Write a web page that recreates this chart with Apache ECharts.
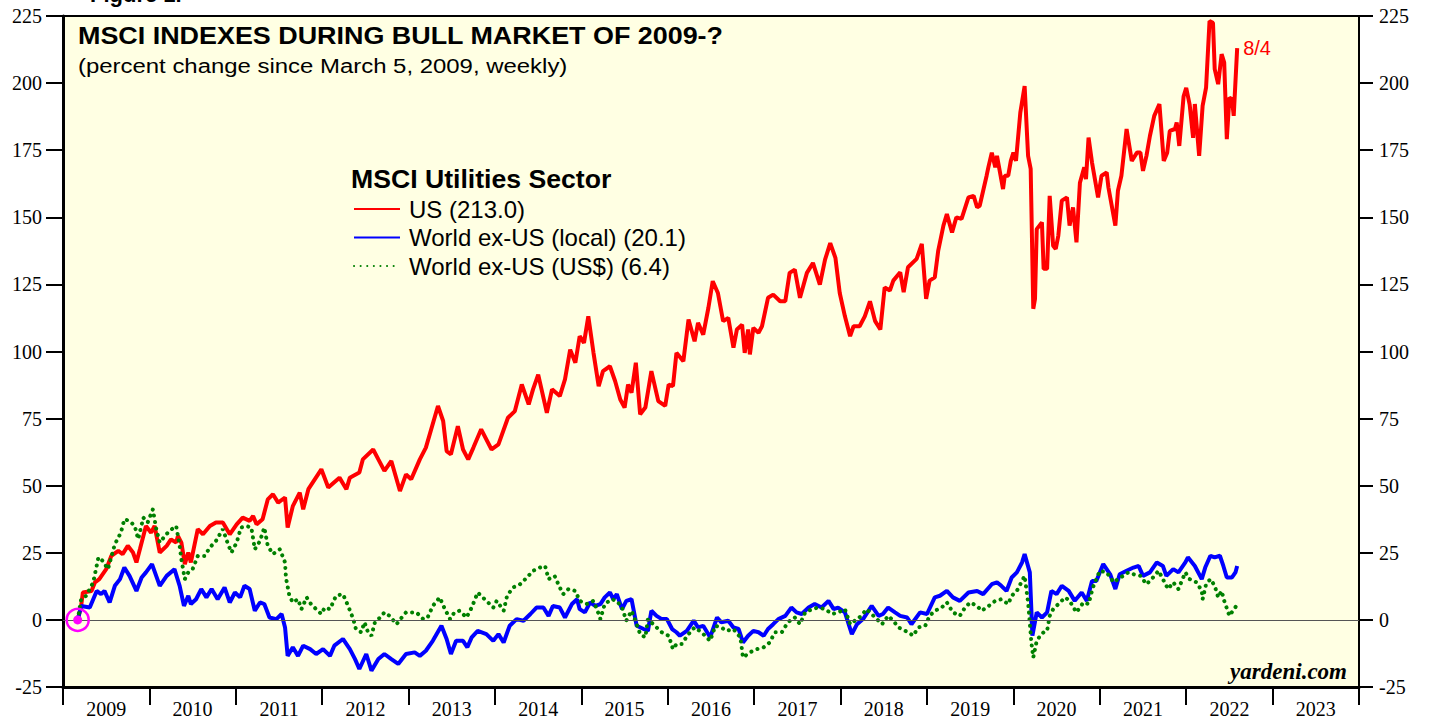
<!DOCTYPE html>
<html>
<head>
<meta charset="utf-8">
<style>html,body{margin:0;padding:0;background:#fff}#main{width:1429px;height:719px}</style>
<script src="https://cdn.jsdelivr.net/npm/echarts@6.0.0/dist/echarts.min.js"></script>
</head>
<body>
<div id="main"></div>
<script>
// year labels on the bottom axis
var years = ['2009', '2010', '2011', '2012', '2013', '2014', '2015', '2016', '2017', '2018', '2019', '2020', '2021', '2022', '2023'];

// MSCI US utilities, % change since 3/5/2009 (dates as decimal years)
var usDates = [
  2009.17, 2009.21, 2009.23, 2009.33, 2009.37, 2009.42, 2009.50, 2009.56, 2009.64, 2009.69, 2009.75, 2009.81, 2009.85, 2009.89, 2009.96,
  2010.02, 2010.06, 2010.12, 2010.20, 2010.25, 2010.31, 2010.33, 2010.37, 2010.41, 2010.45, 2010.48, 2010.56, 2010.62, 2010.70, 2010.77, 2010.85, 2010.93,
  2011.01, 2011.08, 2011.16, 2011.20, 2011.24, 2011.31, 2011.37, 2011.43, 2011.49, 2011.57, 2011.60, 2011.66, 2011.74, 2011.78, 2011.84, 2011.99,
  2012.07, 2012.20, 2012.28, 2012.32, 2012.43, 2012.47, 2012.59, 2012.65, 2012.72, 2012.80, 2012.90, 2012.97,
  2013.03, 2013.13, 2013.20, 2013.34, 2013.40, 2013.44, 2013.49, 2013.57, 2013.63, 2013.69, 2013.75, 2013.84, 2013.96,
  2014.04, 2014.15, 2014.23, 2014.31, 2014.39, 2014.44, 2014.50, 2014.60, 2014.66, 2014.75, 2014.81, 2014.87, 2014.93, 2014.98,
  2015.03, 2015.08, 2015.14, 2015.20, 2015.25, 2015.33, 2015.39, 2015.45, 2015.50, 2015.54, 2015.58, 2015.63, 2015.68, 2015.74, 2015.81, 2015.89, 2015.97,
  2016.01, 2016.06, 2016.10, 2016.18, 2016.24, 2016.31, 2016.35, 2016.41, 2016.47, 2016.52, 2016.58, 2016.64, 2016.70, 2016.76, 2016.80, 2016.86, 2016.89, 2016.93, 2016.95, 2016.99,
  2017.05, 2017.09, 2017.16, 2017.22, 2017.30, 2017.36, 2017.41, 2017.47, 2017.53, 2017.61, 2017.68, 2017.76, 2017.82, 2017.88, 2017.94, 2017.99,
  2018.05, 2018.11, 2018.15, 2018.22, 2018.28, 2018.34, 2018.40, 2018.46, 2018.51, 2018.57, 2018.61, 2018.69, 2018.73, 2018.78, 2018.88, 2018.94, 2018.99,
  2019.03, 2019.09, 2019.13, 2019.19, 2019.23, 2019.29, 2019.34, 2019.40, 2019.48, 2019.54, 2019.58, 2019.61, 2019.69, 2019.71, 2019.75, 2019.79, 2019.81, 2019.88, 2019.90, 2019.94, 2019.97,
  2020.00, 2020.03, 2020.08, 2020.13, 2020.17, 2020.20, 2020.23, 2020.25, 2020.27, 2020.33, 2020.35, 2020.39, 2020.42, 2020.46, 2020.49, 2020.52, 2020.56, 2020.62, 2020.65, 2020.69, 2020.73, 2020.77, 2020.82, 2020.84, 2020.87, 2020.91, 2020.98,
  2021.02, 2021.08, 2021.10, 2021.18, 2021.21, 2021.25, 2021.31, 2021.37, 2021.43, 2021.47, 2021.50, 2021.54, 2021.58, 2021.63, 2021.69, 2021.74, 2021.78, 2021.81, 2021.87, 2021.89, 2021.92, 2021.97,
  2022.00, 2022.04, 2022.08, 2022.10, 2022.15, 2022.19, 2022.23, 2022.27, 2022.31, 2022.33, 2022.37, 2022.41, 2022.44, 2022.47, 2022.50, 2022.53, 2022.55, 2022.59
];
var usValues = [
  0, 5.2, 10.2, 10.8, 14, 15.2, 18.9, 23.9, 25.7, 24.5, 27.6, 25.1, 21.4, 26.3, 35,
  32.5, 35, 25.1, 27.6, 30, 28.8, 31.3, 28.8, 20.8, 25.1, 21.4, 33.8, 31.9, 35, 36.3, 36.3, 31.9,
  35.6, 38.1, 36.9, 38.7, 35.6, 37.5, 44.9, 46.8, 43.7, 45.6, 34.4, 42.4, 47.4, 41.2, 48.7, 56.1,
  49.3, 53, 48.7, 53, 54.9, 59.8, 63.5, 59.8, 55.5, 59.2, 48, 54.2,
  52.4, 59.8, 64.2, 79.7, 74.1, 62.9, 61.7, 72.2, 63.5, 59.8, 64.2, 71, 63.5,
  65.4, 75.3, 77.8, 87.7, 80.3, 85.9, 91.4, 77.2, 85.9, 83.4, 89.6, 100.7, 95.8, 105.7,
  103.2, 113.1, 99.5, 87.1, 92.7, 94.5, 89, 82.1, 79.1, 87.7, 84.6, 95.8, 76.6, 79.1, 92.7, 81.5, 79.7,
  87.7, 87.1, 99.5, 96.4, 111.9, 103.8, 110.7, 106.3, 116.3, 126.2, 121.8, 111.3, 112.5, 101.4, 108.2, 110, 99.5, 108.2, 98.9, 108.8,
  107, 109.4, 120, 121.2, 118.7, 118.7, 129.3, 130.5, 120, 129.3, 133, 124.9, 134.2, 140.4, 134.9, 121.8,
  113.1, 105.7, 109.4, 109.4, 113.1, 118.7, 111.3, 108.2, 123.9, 122.7, 126.4, 129.5, 122.1, 131.4, 134.5, 140.1, 119.6,
  126.4, 127.6, 137.6, 146.9, 151.2, 144.4, 150, 149.4, 157.4, 158, 153.7, 154.3, 165.5, 168.6, 174.1, 168.6, 172.9, 160.5, 165.5, 165.5, 171,
  174.1, 171, 189, 198.9, 172.9, 168, 115.9, 119.6, 145.6, 148.1, 130.8, 130.8, 158, 139.4, 138.2, 143.2, 156.2, 157.4, 146.9, 153.7, 140.7, 162.9, 168.6, 164.2, 179.7, 170.4, 157.4,
  165.5, 166.7, 161.1, 146.9, 159.9, 165.5, 182.9, 171, 174.1, 174.1, 167.3, 172.9, 180.3, 187.8, 192.2, 171, 174.1, 182.2, 182.9, 185.3, 176.6, 195.1,
  198.2, 192, 179.6, 192.2, 172.9, 191.5, 198.3, 223.1, 222.5, 205.2, 199.6, 210.8, 207.6, 179.1, 194.6, 194, 187.8, 213.0
];

// MSCI World ex-US utilities in local currency
var localDates = [
  2009.17, 2009.21, 2009.31, 2009.39, 2009.44, 2009.48, 2009.54, 2009.60, 2009.66, 2009.71, 2009.77, 2009.85, 2009.91, 2009.96,
  2010.03, 2010.12, 2010.20, 2010.29, 2010.35, 2010.40, 2010.45, 2010.48, 2010.54, 2010.60, 2010.66, 2010.72, 2010.79, 2010.87, 2010.93, 2010.99,
  2011.05, 2011.10, 2011.16, 2011.22, 2011.28, 2011.33, 2011.39, 2011.47, 2011.53, 2011.57, 2011.60, 2011.66, 2011.72, 2011.78, 2011.86, 2011.93,
  2012.01, 2012.09, 2012.14, 2012.24, 2012.32, 2012.38, 2012.43, 2012.51, 2012.57, 2012.65, 2012.72, 2012.80, 2012.88, 2012.97,
  2013.07, 2013.13, 2013.20, 2013.28, 2013.38, 2013.44, 2013.49, 2013.55, 2013.63, 2013.68, 2013.73, 2013.80, 2013.90, 2013.98,
  2014.04, 2014.10, 2014.17, 2014.25, 2014.33, 2014.41, 2014.48, 2014.56, 2014.62, 2014.67, 2014.75, 2014.81, 2014.89, 2014.95, 2014.98,
  2015.04, 2015.10, 2015.16, 2015.22, 2015.27, 2015.33, 2015.37, 2015.41, 2015.47, 2015.52, 2015.58, 2015.64, 2015.72, 2015.77, 2015.81, 2015.87, 2015.93, 2015.99,
  2016.05, 2016.10, 2016.14, 2016.22, 2016.30, 2016.35, 2016.41, 2016.49, 2016.57, 2016.62, 2016.70, 2016.76, 2016.82, 2016.87, 2016.93, 2016.99,
  2017.05, 2017.11, 2017.16, 2017.22, 2017.28, 2017.36, 2017.43, 2017.49, 2017.55, 2017.63, 2017.70, 2017.78, 2017.86, 2017.92, 2017.97,
  2018.05, 2018.13, 2018.19, 2018.26, 2018.36, 2018.44, 2018.49, 2018.55, 2018.63, 2018.69, 2018.77, 2018.82, 2018.92,
  2019.00, 2019.09, 2019.15, 2019.23, 2019.30, 2019.38, 2019.48, 2019.58, 2019.65, 2019.75, 2019.81, 2019.86, 2019.92, 2019.98,
  2020.04, 2020.10, 2020.13, 2020.19, 2020.22, 2020.27, 2020.33, 2020.39, 2020.44, 2020.50, 2020.56, 2020.64, 2020.71, 2020.79, 2020.85, 2020.91, 2020.96,
  2021.04, 2021.12, 2021.18, 2021.23, 2021.31, 2021.39, 2021.45, 2021.50, 2021.58, 2021.66, 2021.73, 2021.77, 2021.85, 2021.91, 2021.99,
  2022.02, 2022.10, 2022.18, 2022.22, 2022.28, 2022.33, 2022.39, 2022.43, 2022.47, 2022.53, 2022.57, 2022.59
];
var localValues = [
  0, 5.2, 4.6, 10.8, 9.6, 10.8, 6.5, 12.7, 15.2, 19.5, 16.4, 10.8, 15.8, 17.7,
  20.8, 12.7, 16.4, 18.9, 12.7, 5.2, 9, 5.9, 7.7, 11.5, 8.4, 11.5, 7.7, 12.1, 6.5, 10.2,
  8.4, 12.7, 11.5, 3.4, 6.5, 5.9, 0.9, 0.3, 2.2, -2.8, -13.4, -10.2, -13.4, -9.6, -10.9, -12.7,
  -10.9, -13.4, -9.6, -7.1, -10.9, -14.6, -18.3, -12.7, -18.9, -14.6, -12.7, -14.6, -16.4, -12.7,
  -12.1, -13.4, -11.5, -7.8, -2.2, -7.1, -12.7, -7.8, -7.8, -10.2, -6.5, -4.1, -5.3, -7.8,
  -5.3, -8.4, -2.2, 0.3, -0.3, 2.2, 4.6, 4.6, 1.5, 5.2, 4.6, 0.9, 5.9, 7.7, 4,
  2.8, 6.5, 5.2, 5.9, 8.4, 10.2, 7.7, 9.6, 4, 7.1, 7.7, -2.2, -3.4, -4.1, 3.4, 1.5, 0.3, 0.3,
  -3.4, -4.6, -5.9, -4.1, -0.3, -2.8, -2.2, -6.5, 0.9, -0.9, -0.3, -2.8, -3.4, -8.4, -5.9, -4.1,
  -4.6, -5.9, -3.4, -1.6, 0.3, 1.5, 4.6, 2.8, 2.2, 4.6, 5.9, 4.6, 7.1, 4, 4.6,
  2.8, -5.3, -1.6, 0.3, 5.2, 1.5, 2.2, 4.6, 2.8, 1.5, 0.9, -1.6, 2.8,
  2.2, 8.4, 9, 10.8, 8.4, 7.1, 10.2, 10.8, 9.6, 13.3, 14, 12.7, 10.8, 15.8,
  17.7, 21.4, 24.5, 17.7, -5.9, 2.8, 0.9, 2.8, 10.8, 9.6, 12.7, 10.8, 7.1, 10.2, 7.1, 14.5, 14.5,
  20.8, 17, 11.5, 17, 18.3, 19.5, 20.1, 16.4, 17.7, 21.4, 20.1, 16.4, 18.9, 17.7, 21.4,
  23.3, 20.1, 15.2, 19.5, 23.9, 23.3, 23.9, 20.1, 15.8, 15.8, 17.7, 20.1
];

// MSCI World ex-US utilities in US dollars
var usdDates = [
  2009.17, 2009.21, 2009.27, 2009.35, 2009.41, 2009.46, 2009.52, 2009.60, 2009.67, 2009.71, 2009.77, 2009.83, 2009.87, 2009.93, 2009.98,
  2010.04, 2010.08, 2010.12, 2010.18, 2010.23, 2010.31, 2010.35, 2010.37, 2010.41, 2010.45, 2010.50, 2010.56, 2010.64, 2010.70, 2010.77, 2010.85, 2010.91, 2010.95,
  2011.01, 2011.06, 2011.12, 2011.18, 2011.22, 2011.28, 2011.33, 2011.37, 2011.43, 2011.51, 2011.57, 2011.58, 2011.62, 2011.66, 2011.72, 2011.76, 2011.82, 2011.87, 2011.93, 2011.99,
  2012.03, 2012.09, 2012.16, 2012.24, 2012.30, 2012.36, 2012.39, 2012.45, 2012.49, 2012.53, 2012.57, 2012.61, 2012.67, 2012.72, 2012.78, 2012.86, 2012.92, 2012.97,
  2013.09, 2013.17, 2013.22, 2013.28, 2013.36, 2013.42, 2013.48, 2013.53, 2013.59, 2013.67, 2013.73, 2013.80, 2013.90, 2013.98,
  2014.02, 2014.10, 2014.14, 2014.21, 2014.29, 2014.37, 2014.44, 2014.52, 2014.58, 2014.62, 2014.69, 2014.75, 2014.79, 2014.85, 2014.93, 2014.98,
  2015.06, 2015.14, 2015.20, 2015.22, 2015.27, 2015.35, 2015.41, 2015.47, 2015.52, 2015.58, 2015.64, 2015.68, 2015.74, 2015.77, 2015.85, 2015.93,
  2016.01, 2016.06, 2016.10, 2016.16, 2016.24, 2016.31, 2016.39, 2016.49, 2016.55, 2016.62, 2016.68, 2016.76, 2016.84, 2016.87, 2016.95,
  2017.03, 2017.11, 2017.18, 2017.24, 2017.32, 2017.39, 2017.47, 2017.53, 2017.59, 2017.67, 2017.74, 2017.82, 2017.90, 2017.97,
  2018.05, 2018.11, 2018.19, 2018.24, 2018.30, 2018.40, 2018.48, 2018.55, 2018.61, 2018.67, 2018.78, 2018.84, 2018.90, 2018.98,
  2019.03, 2019.09, 2019.17, 2019.23, 2019.30, 2019.38, 2019.44, 2019.50, 2019.58, 2019.63, 2019.69, 2019.79, 2019.86, 2019.94, 2019.98,
  2020.04, 2020.10, 2020.13, 2020.17, 2020.21, 2020.23, 2020.27, 2020.31, 2020.35, 2020.39, 2020.42, 2020.46, 2020.54, 2020.60, 2020.65, 2020.73, 2020.81, 2020.87, 2020.92,
  2021.00, 2021.08, 2021.16, 2021.21, 2021.27, 2021.33, 2021.39, 2021.47, 2021.54, 2021.60, 2021.68, 2021.73, 2021.79, 2021.85, 2021.91, 2021.99,
  2022.04, 2022.12, 2022.18, 2022.19, 2022.23, 2022.28, 2022.33, 2022.37, 2022.41, 2022.44, 2022.48, 2022.50, 2022.54, 2022.58, 2022.59
];
var usdValues = [
  0, 7.7, 9, 14, 23.3, 22, 18.9, 28.2, 32.5, 37.5, 36.9, 35, 30.1, 38.1, 36.3,
  41.2, 33.8, 28.8, 31.3, 33.1, 35, 27.6, 22.6, 15.2, 17.7, 18.9, 23.8, 23.8, 27, 29.4, 33.8, 28.2, 25.1,
  28.8, 34.4, 35, 34.4, 26.3, 29.4, 34.4, 27.6, 24.5, 26.3, 21.4, 15.8, 9, 6.5, 7.7, 4, 8.4, 5.9, 4, 2.2,
  4.6, 4, 9, 9.6, 5.2, 0.3, -3.4, -4.6, -0.9, -4.6, -5.9, -0.9, 0.9, 2.8, 1.5, -1.6, 0.9, 2.8,
  2.8, 0.3, 0.9, 5.2, 8.4, 4, 0.3, 2.8, 3.4, 0.9, 4.6, 10.2, 7.1, 4.6,
  7.1, 3.4, 9, 12.1, 13.3, 15.8, 18.3, 19.5, 20.1, 15.2, 16.4, 12.1, 9.6, 11.5, 10.8, 7.1,
  5.9, 7.1, 2.2, 0.3, 5.9, 7.7, 7.1, 4.6, -0.3, 3.4, -1.6, -5.3, -6.5, 0.3, -2.2, -4.6,
  -5.9, -10.9, -9, -9, -5.3, -2.8, -4.6, -7.8, -2.2, -2.8, -4.1, -3.4, -6.5, -14, -12.1,
  -10.9, -10.2, -8.4, -4.6, -4.6, -0.9, 0.9, -1.6, 2.8, 4, 4.6, 4, 2.2, 2.8,
  4, -1.6, 0.3, 1.5, 4, 0.9, -1.6, 1.5, -0.3, -2.8, -4.6, -5.9, -2.8, -2.2,
  1.5, 3.4, 4.6, 6.5, 2.8, 1.5, 4.6, 6.5, 5.2, 3.4, 4.6, 7.1, 7.7, 5.9, 9,
  10.8, 14.5, 16.4, 6.5, -9, -14, -7.8, -5.9, -4.6, -4.1, 1.5, 4, 6.5, 8.4, 7.1, 2.8, 6.5, 5.9, 12.1,
  18.3, 17.7, 14, 15.2, 16.4, 17.7, 17, 16.4, 13.3, 15.2, 18.3, 15.2, 11.5, 14, 11.5, 17.7,
  15.2, 14, 10.8, 7.7, 13.3, 15.2, 12.7, 8.4, 10.8, 7.1, 3.4, 1.5, 3.4, 5.2, 6.4
];

var seriesNames = ['US (213.0)', 'World ex-US (local) (20.1)', 'World ex-US (US$) (6.4)'];

var chartDom = document.getElementById('main');
var myChart = echarts.init(chartDom, null, { renderer: 'svg' });
var option;

var serif = 'Liberation Serif';
var sans = 'Liberation Sans';

function pairs(xs, ys) {
  return xs.map(function (x, i) { return [x, ys[i]]; });
}

function valueAxis(pos) {
  var left = pos === 'left';
  return {
    type: 'value',
    position: pos,
    min: -25,
    max: 225,
    interval: 25,
    axisLine: { show: true, onZero: false, lineStyle: { color: '#000', width: left ? 3 : 2 } },
    axisTick: { show: true, inside: false, length: left ? 17 : 14, lineStyle: { color: '#000', width: 2 } },
    axisLabel: { fontFamily: serif, fontSize: 20, color: '#000', margin: left ? 21 : 20 },
    splitLine: { show: false }
  };
}

option = {
  animation: false,
  backgroundColor: '#fff',
  grid: {
    left: 63,
    right: 70,
    top: 16,
    bottom: 31,
    show: true,
    backgroundColor: '#ffffe3',
    borderColor: '#000',
    borderWidth: 2
  },
  legend: {
    orient: 'vertical',
    left: 348,
    top: 192,
    itemWidth: 46,
    itemHeight: 20,
    itemGap: 4.5,
    data: seriesNames,
    itemStyle: { opacity: 0 },
    textStyle: { fontFamily: sans, fontSize: 24, color: '#000', padding: [0, 0, 0, 4] }
  },
  graphic: [
    {
      type: 'text', x: 78, y: 24, scaleX: 1.17,
      style: { text: 'MSCI INDEXES DURING BULL MARKET OF 2009-?', font: 'bold 23px "Liberation Sans"', fill: '#000', verticalAlign: 'top' }
    },
    {
      type: 'text', x: 78, y: 55, scaleX: 1.14,
      style: { text: '(percent change since March 5, 2009, weekly)', font: '21px "Liberation Sans"', fill: '#000', verticalAlign: 'top' }
    },
    {
      type: 'text', x: 351, y: 167, scaleX: 1.065,
      style: { text: 'MSCI Utilities Sector', font: 'bold 25px "Liberation Sans"', fill: '#000', verticalAlign: 'top' }
    },
    {
      type: 'text', right: 82, top: 660,
      style: { text: 'yardeni.com', font: 'italic bold 23px "Liberation Serif"', fill: '#000' }
    },
    {
      type: 'text', left: 90, top: -17,
      style: { text: 'Figure 1.', font: 'bold 22px "Liberation Sans"', fill: '#000' }
    }
  ],
  xAxis: [
    {
      type: 'value',
      min: 2009,
      max: 2024,
      show: false
    },
    {
      type: 'category',
      position: 'bottom',
      data: years,
      boundaryGap: true,
      axisLine: { show: true, onZero: false, lineStyle: { color: '#000', width: 3 } },
      axisTick: { show: true, inside: false, length: 18, interval: 0, lineStyle: { color: '#000', width: 2 } },
      axisLabel: { fontFamily: serif, fontSize: 20, color: '#000', margin: 12, interval: 0 },
      splitLine: { show: false }
    }
  ],
  yAxis: [valueAxis('left'), valueAxis('right')],
  series: [
    {
      name: seriesNames[0],
      type: 'line',
      xAxisIndex: 0,
      yAxisIndex: 0,
      data: pairs(usDates, usValues),
      symbol: 'none',
      color: '#ff0000',
      lineStyle: { color: '#ff0000', width: 4 },
      endLabel: { show: true, formatter: '8/4', color: '#ff0000', fontFamily: sans, fontSize: 20, distance: 6 },
      markLine: {
        silent: true,
        symbol: ['none', 'none'],
        label: { show: false },
        lineStyle: { color: '#555', width: 1.2, type: 'solid' },
        data: [{ yAxis: 0 }]
      }
    },
    {
      name: seriesNames[1],
      type: 'line',
      xAxisIndex: 0,
      yAxisIndex: 0,
      data: pairs(localDates, localValues),
      symbol: 'none',
      color: '#0000ff',
      lineStyle: { color: '#0000ff', width: 4 },
      z: 3
    },
    {
      name: seriesNames[2],
      type: 'line',
      xAxisIndex: 0,
      yAxisIndex: 0,
      data: pairs(usdDates, usdValues),
      symbol: 'none',
      color: '#008000',
      lineStyle: { color: '#008000', width: 4, type: [0.1, 6.5], cap: 'round' },
      z: 4,
      markPoint: {
        silent: true,
        label: { show: false },
        data: [
          { coord: [usdDates[0], 0], symbol: 'circle', symbolSize: 22, itemStyle: { color: 'rgba(0,0,0,0)', borderColor: '#ff00ff', borderWidth: 2.5 } },
          { coord: [usdDates[0], 0], symbol: 'circle', symbolSize: 9, itemStyle: { color: '#ff00ff' } }
        ]
      }
    }
  ]
};

option && myChart.setOption(option);
</script>
</body>
</html>
